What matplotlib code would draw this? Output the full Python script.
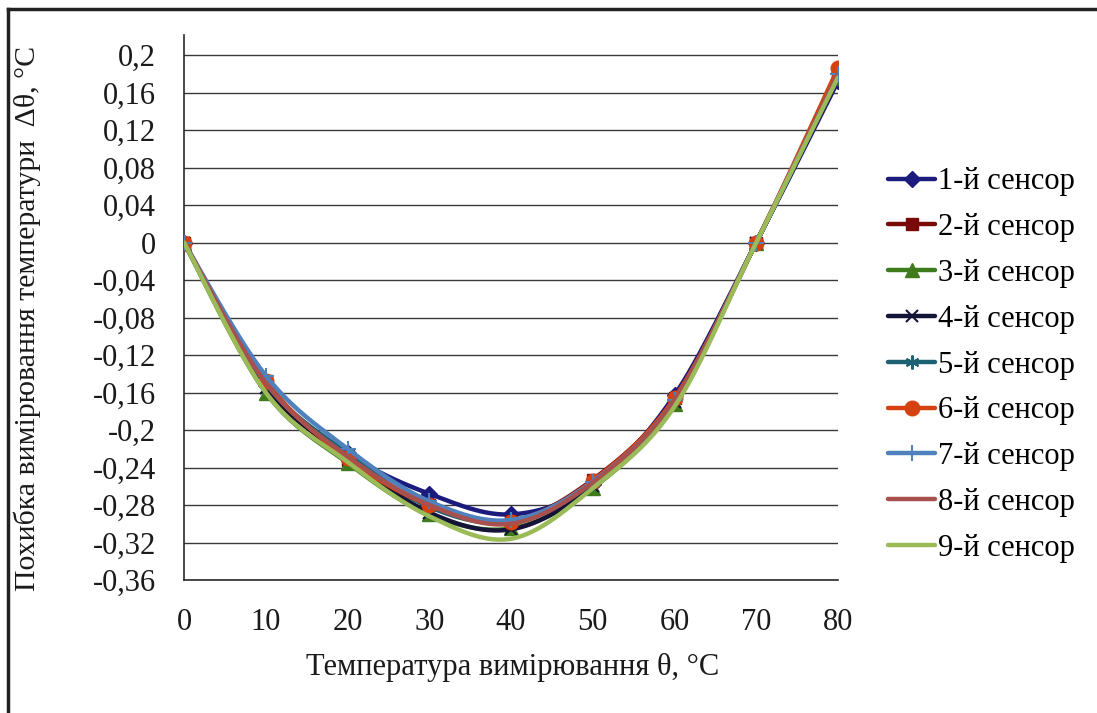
import numpy as np
import matplotlib
matplotlib.use("Agg")
import matplotlib.pyplot as plt
from matplotlib.lines import Line2D

plt.rcParams['font.family'] = ['Liberation Serif', 'DejaVu Serif']

temps = [0, 10, 20, 30, 40, 50, 60, 70, 80]
s1 = [0, -0.152, -0.225, -0.268, -0.290, -0.258, -0.163, 0, 0.172]
s2 = [0, -0.148, -0.232, -0.280, -0.297, -0.253, -0.166, 0, 0.180]
s3 = [0, -0.160, -0.235, -0.290, -0.305, -0.262, -0.172, 0, 0.176]
s4 = [0, -0.155, -0.228, -0.288, -0.306, -0.260, -0.170, 0, 0.175]
s5 = [0, -0.150, -0.225, -0.282, -0.298, -0.256, -0.168, 0, 0.178]
s6 = [0, -0.148, -0.230, -0.280, -0.298, -0.254, -0.166, 0, 0.186]
s7 = [0, -0.142, -0.220, -0.276, -0.296, -0.255, -0.168, 0, 0.180]
s8 = [0, -0.150, -0.228, -0.280, -0.300, -0.256, -0.168, 0, 0.180]
s9 = [0, -0.160, -0.234, -0.292, -0.316, -0.262, -0.175, 0, 0.176]
series = [s1, s2, s3, s4, s5, s6, s7, s8, s9]
labels = [f"{i}-й сенсор" for i in range(1, 10)]
ytick_vals = [-0.36, -0.32, -0.28, -0.24, -0.2, -0.16, -0.12, -0.08, -0.04,
              0, 0.04, 0.08, 0.12, 0.16, 0.2]

colors = ['#1b1b7e', '#7a0a0a', '#3f7a1c', '#141438', '#1d6272',
          '#d5420f', '#4f81bd', '#a8504e', '#9bbb59']
markers = ['D', 's', '^', 'x', (6, 2, 0), 'o', '+', None, None]
msizes = [8, 9, 10, 9, 10, 10.5, 11, 0, 0]


def smooth(xs, ys, n=30):
    # Excel-like smoothed line: cubic Bezier, control points from neighbours
    xs = np.asarray(xs, float)
    ys = np.asarray(ys, float)
    px = np.concatenate([[xs[0]], xs, [xs[-1]]])
    py = np.concatenate([[ys[0]], ys, [ys[-1]]])
    outx, outy = [], []
    t = np.linspace(0, 1, n, endpoint=False)
    for i in range(len(xs) - 1):
        p0 = np.array([xs[i], ys[i]])
        p3 = np.array([xs[i + 1], ys[i + 1]])
        prev = np.array([px[i], py[i]])
        nxt = np.array([px[i + 3], py[i + 3]])
        p1 = p0 + (p3 - prev) / 6
        p2 = p3 - (nxt - p0) / 6
        b = ((1 - t) ** 3)[:, None] * p0 + (3 * (1 - t) ** 2 * t)[:, None] * p1 \
            + (3 * (1 - t) * t ** 2)[:, None] * p2 + (t ** 3)[:, None] * p3
        outx.extend(b[:, 0])
        outy.extend(b[:, 1])
    outx.append(xs[-1])
    outy.append(ys[-1])
    return np.array(outx), np.array(outy), n


FS = 22

fig = plt.figure(figsize=(10.97, 7.13), dpi=100)
ax = fig.add_axes([184 / 1097, 1 - 580 / 713, (838 - 184) / 1097, (580 - 35) / 713])

for v in ytick_vals:
    ax.axhline(v, color='#3a3a3a', lw=1.0, zorder=1)

for ys, lab, c, m, ms in zip(series, labels, colors, markers, msizes):
    sx, sy, n = smooth(temps, ys)
    every = list(range(0, len(sx), n))
    if m is None:
        ax.plot(sx, sy, color=c, lw=3.2, label=lab, zorder=3, solid_capstyle='round')
    else:
        mew = 1.5 if m in ('x', '+') or isinstance(m, tuple) else 1
        ax.plot(sx, sy, color=c, lw=3.2, label=lab, marker=m, markevery=every,
                markersize=ms, markeredgewidth=mew, markeredgecolor=c,
                zorder=3, solid_capstyle='round')

ax.set_xlim(0, 80)
ax.set_ylim(-0.36, 0.2 + 20 / 937.5)
ax.set_xticks(temps)
ax.set_yticks(ytick_vals)
ax.set_yticklabels([('%g' % v).replace('.', ',') for v in ytick_vals])
ax.tick_params(axis='both', length=0, labelsize=FS, colors='#1a1a1a')
ax.tick_params(axis='y', pad=20)
ax.tick_params(axis='x', pad=20)
for s in ['top', 'right']:
    ax.spines[s].set_visible(False)
for s in ['left', 'bottom']:
    ax.spines[s].set_color('#2a2a2a')
    ax.spines[s].set_linewidth(1.2)

fig.text(513 / 1097, 1 - 668 / 713, "Температура вимірювання θ, °С",
         ha='center', va='center', fontsize=FS, color='#1a1a1a')
fig.text(27 / 1097, 1 - 318 / 713, "Похибка вимірювання температури  Δθ, °С",
         ha='center', va='center', rotation=90, fontsize=21.5, color='#1a1a1a')

fig.legend(loc='center left', bbox_to_anchor=(888 / 1097, 1 - 365 / 713),
           frameon=False, fontsize=FS, handlelength=1.55, handletextpad=0.1,
           labelspacing=0.55, borderaxespad=0, borderpad=0)

# outer frame (top and left edges visible)
fig.add_artist(Line2D([8 / 1097, 1], [1 - 9 / 713, 1 - 9 / 713],
                      transform=fig.transFigure, color='#222222', lw=2.5))
fig.add_artist(Line2D([8 / 1097, 8 / 1097], [0, 1 - 9 / 713],
                      transform=fig.transFigure, color='#222222', lw=2.5))

fig.savefig("out.png", dpi=100)
